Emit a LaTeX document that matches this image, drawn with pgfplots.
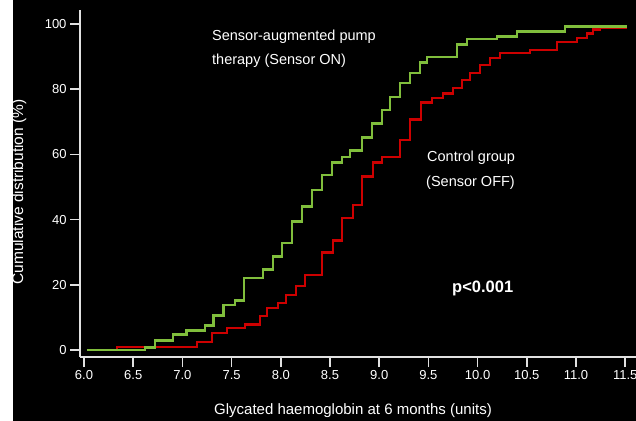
\documentclass[border=0pt]{standalone}
\usepackage{fontspec}
\setmainfont{Liberation Sans}
\usepackage{pgfplots}
\pgfplotsset{compat=1.18}
\definecolor{sgreen}{RGB}{128,190,60}
\definecolor{cred}{RGB}{205,0,0}
\definecolor{axgray}{RGB}{225,225,225}
\begin{document}
\begin{tikzpicture}
\useasboundingbox (0,0) rectangle (636bp,421bp);
\fill[black] (0,0) rectangle (636bp,421bp);
\begin{axis}[
  at={(80bp,64bp)}, anchor=south west,
  scale only axis, width=556bp, height=347bp,
  xmin=5.959, xmax=11.61, ymin=-2.15, ymax=104.3,
  axis lines*=left,
  axis line style={axgray, line width=1.5bp},
  xtick={6,6.5,7,7.5,8,8.5,9,9.5,10,10.5,11,11.5},
  xticklabels={6.0,6.5,7.0,7.5,8.0,8.5,9.0,9.5,10.0,10.5,11.0,11.5},
  ytick={0,20,40,60,80,100},
  tick align=outside,
  major tick length=10bp,
  every tick/.style={axgray, line width=1.5bp},
  tick label style={white, font=\fontsize{13bp}{15bp}\selectfont},
  /pgf/number format/assume math mode=true,
  clip=false,
]
\addplot[cred, line width=2.8bp, const plot mark left, no marks] coordinates {
(6.03,0) (6.335,0.9) (7.148,2.45) (7.301,5.2) (7.453,6.75) (7.636,7.7) (7.789,10.4) (7.860,12.9) (7.972,14.4) (8.053,16.9) (8.154,19.6) (8.246,23.0) (8.419,29.8) (8.530,33.7) (8.622,40.5) (8.734,44.5) (8.825,53.1) (8.937,57.4) (9.028,59.2) (9.211,64.4) (9.313,70.6) (9.425,75.8) (9.537,77.3) (9.648,78.8) (9.750,80.4) (9.841,82.8) (9.923,85.0) (10.024,87.4) (10.126,89.6) (10.228,91.1) (10.533,92.0) (10.807,94.5) (11.010,95.7) (11.112,97.2) (11.173,98.2) (11.244,98.8) (11.518,98.8)
};
\addplot[sgreen, line width=2.8bp, const plot mark left, no marks] coordinates {
(6.03,0) (6.620,0.7) (6.722,2.8) (6.904,4.8) (7.044,6.1) (7.230,7.4) (7.314,10.7) (7.416,13.8) (7.535,15.1) (7.626,22.1) (7.819,24.8) (7.921,28.8) (8.012,32.8) (8.114,39.3) (8.215,43.9) (8.317,49.1) (8.418,53.7) (8.520,57.4) (8.622,59.2) (8.703,61.3) (8.825,65.3) (8.927,69.6) (9.028,73.6) (9.110,77.6) (9.211,81.9) (9.313,85.0) (9.415,88.3) (9.486,89.9) (9.791,93.6) (9.892,95.4) (10.197,96.1) (10.400,97.6) (10.888,99.2) (11.518,99.2)
};
\end{axis}
\begin{scope}[every node/.style={text=white, inner sep=0pt}]
\node[anchor=mid west, font=\fontsize{14.5bp}{17bp}\selectfont] at (212bp,383bp) {Sensor-augmented pump};
\node[anchor=mid west, font=\fontsize{14.5bp}{17bp}\selectfont] at (212bp,359bp) {therapy (Sensor ON)};
\node[anchor=mid west, font=\fontsize{14.5bp}{17bp}\selectfont] at (427bp,262bp) {Control group};
\node[anchor=mid west, font=\fontsize{14.5bp}{17bp}\selectfont] at (426bp,237bp) {(Sensor OFF)};
\node[anchor=mid west, font=\bfseries\fontsize{16.5bp}{19bp}\selectfont] at (452bp,131bp) {p<0.001};
\node[anchor=mid, font=\fontsize{15bp}{18bp}\selectfont] at (353bp,9bp) {Glycated haemoglobin at 6 months (units)};
\node[rotate=90, anchor=base, font=\fontsize{15.5bp}{18bp}\selectfont] at (23bp,229bp) {Cumulative distribution (\%)};
\end{scope}
\fill[white] (0,0) rectangle (13bp,421bp);
\end{tikzpicture}
\end{document}
